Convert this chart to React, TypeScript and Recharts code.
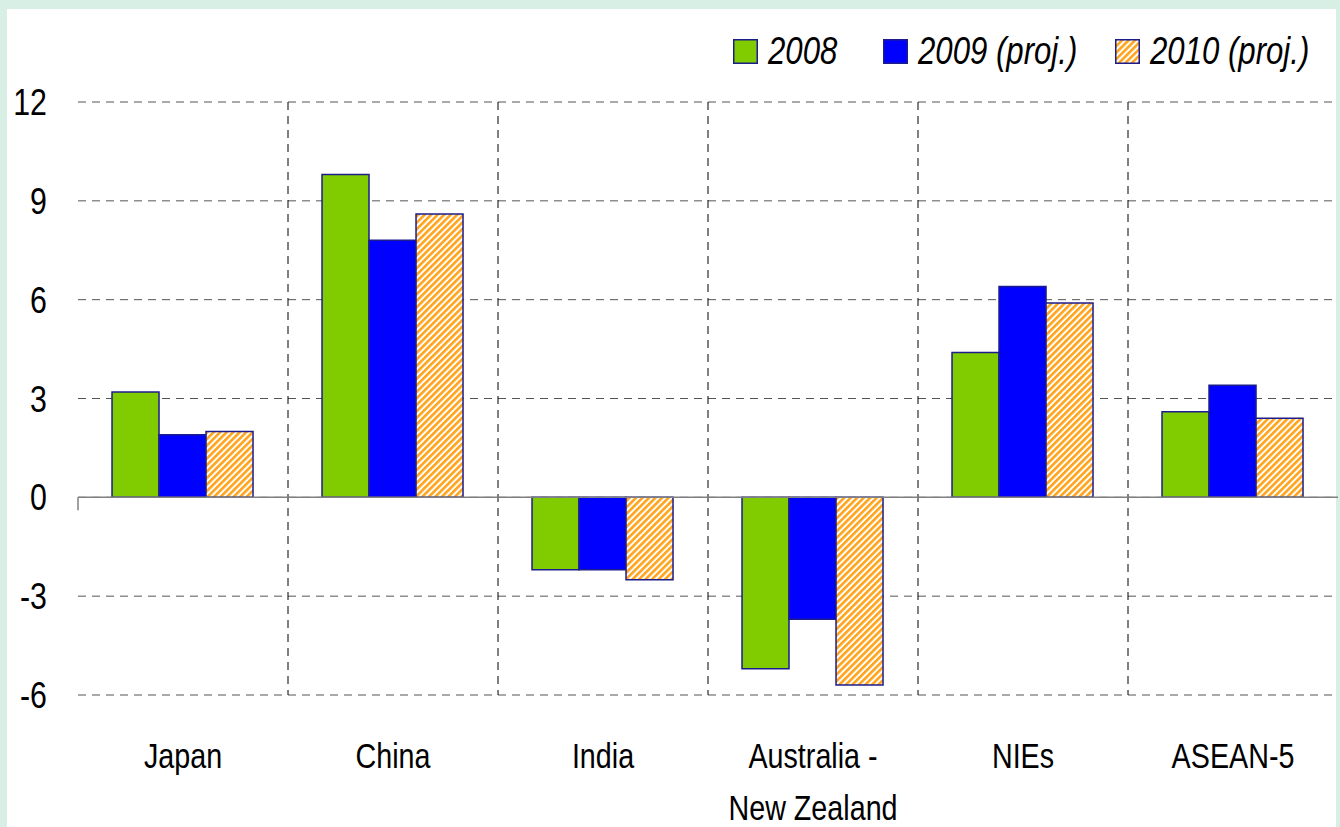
import React from 'react';
import { BarChart, Bar, XAxis, YAxis, CartesianGrid, ReferenceLine, Legend } from 'recharts';

const categories = ['Japan', 'China', 'India', 'Australia -\nNew Zealand', 'NIEs', 'ASEAN-5'];
const values2008 = [3.2, 9.8, -2.2, -5.2, 4.4, 2.6];
const values2009 = [1.9, 7.8, -2.2, -3.7, 6.4, 3.4];
const values2010 = [2.0, 8.6, -2.5, -5.7, 5.9, 2.4];
const yTicks = [-6, -3, 0, 3, 6, 9, 12];
const seriesNames = ['2008', '2009 (proj.)', '2010 (proj.)'];

const data = categories.map((c, i) => ({
  name: c,
  v2008: values2008[i],
  v2009: values2009[i],
  v2010: values2010[i],
}));

const FONT = '"Liberation Sans", Arial, sans-serif';
const NARROW = 0.82;
const STROKE = '#1c1c8c';
const GREEN = '#80cc00';
const BLUE = '#0000ff';
const ORANGE = '#ffa31a';

const series = [
  { key: 'v2008', name: seriesNames[0], fill: GREEN },
  { key: 'v2009', name: seriesNames[1], fill: BLUE },
  { key: 'v2010', name: seriesNames[2], fill: 'url(#hatch)' },
];

const XTick = (props: any) => {
  const { x, y, payload } = props;
  const lines = String(payload.value).split('\n');
  return (
    <g transform={`translate(${x},${y}) scale(${NARROW},1)`}>
      <text x={0} y={73} textAnchor="middle" fontFamily={FONT} fontSize={35} fill="#000">
        {lines.map((l, i) => (
          <tspan key={i} x={0} dy={i === 0 ? 0 : 52}>{l}</tspan>
        ))}
      </text>
    </g>
  );
};

const YTick = (props: any) => {
  const { x, y, payload } = props;
  return (
    <g transform={`translate(${x},${y}) scale(${NARROW},1)`}>
      <text x={0} y={13} textAnchor="end" fontFamily={FONT} fontSize={37} fill="#000">
        {payload.value}
      </text>
    </g>
  );
};

const legendOffsets = [5, 155, 387];

const LegendContent = () => (
  <svg width={600} height={50} style={{ display: 'block', overflow: 'visible' }}>
    {series.map((s, i) => (
      <g key={s.key} transform={`translate(${legendOffsets[i]},0)`}>
        <rect x={0.75} y={13.75} width={23.5} height={23.5} fill={s.fill} stroke={STROKE} strokeWidth={1.5} />
        <g transform={`translate(35,0) scale(${NARROW},1)`}>
          <text x={0} y={38} fontFamily={FONT} fontStyle="italic" fontSize={38} fill="#000">
            {s.name}
          </text>
        </g>
      </g>
    ))}
  </svg>
);

const ZeroLine = (props: any) => {
  const { x1, y1, x2, y2 } = props;
  return (
    <g>
      <line x1={x1} y1={y1} x2={x2} y2={y2} stroke="#808080" strokeWidth={1.5} />
      <line x1={x1} y1={y1} x2={x1} y2={y1 + 13} stroke="#808080" strokeWidth={1.5} />
    </g>
  );
};

export default function App() {
  return (
    <div style={{ position: 'fixed', inset: 0, background: '#d8efe6' }}>
      <div style={{ position: 'absolute', left: 7, top: 9, width: 1329, height: 818, background: '#fff' }} />
      <div style={{ position: 'absolute', left: 0, top: 0 }}>
        <BarChart
          width={1340}
          height={827}
          data={data}
          margin={{ top: 52, right: 2, bottom: 0, left: 0 }}
          barCategoryGap="16.2%"
          barGap={0}
        >
          <defs>
            <pattern id="hatch" patternUnits="userSpaceOnUse" width={4.6} height={4.6} patternTransform="rotate(45)">
              <rect x={0} y={0} width={4.6} height={4.6} fill="#fff" />
              <rect x={0} y={0} width={2.6} height={4.6} fill={ORANGE} />
            </pattern>
          </defs>
          <CartesianGrid horizontal={true} vertical={false} stroke="#555" strokeDasharray="8 6" strokeWidth={1} />
          <CartesianGrid
            horizontal={false}
            vertical={true}
            stroke="#000"
            strokeDasharray="8 6"
            strokeWidth={1}
            verticalCoordinatesGenerator={({ offset }: any) =>
              categories.slice(1).map((_, i) => offset.left + ((i + 1) * offset.width) / categories.length)
            }
          />
          <XAxis
            dataKey="name"
            axisLine={false}
            tickLine={false}
            tickSize={0}
            tickMargin={0}
            height={132}
            interval={0}
            tick={<XTick />}
          />
          <YAxis
            width={78}
            domain={[-6, 12]}
            ticks={yTicks}
            axisLine={false}
            tickLine={false}
            tickSize={0}
            tickMargin={31}
            interval={0}
            tick={<YTick />}
          />
          <Legend
            verticalAlign="top"
            align="left"
            wrapperStyle={{ top: 26, left: 728, width: 600, height: 50 }}
            content={<LegendContent />}
          />
          {series.map((s) => (
            <Bar
              key={s.key}
              dataKey={s.key}
              name={s.name}
              fill={s.fill}
              stroke={STROKE}
              strokeWidth={1.5}
              isAnimationActive={false}
            />
          ))}
          <ReferenceLine y={0} shape={<ZeroLine />} />
        </BarChart>
      </div>
    </div>
  );
}
